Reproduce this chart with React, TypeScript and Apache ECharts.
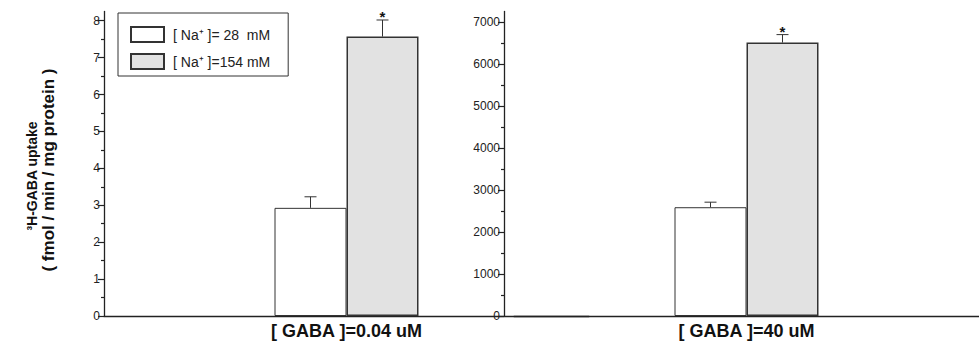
import React, { useEffect, useRef } from "react";
import * as echarts from "echarts";

const lowCategories = ["[ GABA ]=0.04 uM"];
const highCategories = ["[ GABA ]=40 uM"];
const seriesNames = ["[ Na⁺ ]= 28  mM", "[ Na⁺ ]=154 mM"];

const lowNa28 = [2.93];
const lowNa28Err = [0.3];
const lowNa154 = [7.57];
const lowNa154Err = [0.45];

const highNa28 = [2590];
const highNa28Err = [120];
const highNa154 = [6510];
const highNa154Err = [190];

const leftMajorTicks = [0, 1, 2, 3, 4, 5, 6, 7, 8];
const leftMinorTicks = [0.5, 1.5, 2.5, 3.5, 4.5, 5.5, 6.5, 7.5];
const rightMajorTicks = [0, 1000, 2000, 3000, 4000, 5000, 6000, 7000];
const rightMinorTicks = [500, 1500, 2500, 3500, 4500, 5500, 6500];

const yTitleLines = ["³H-GABA uptake", "( fmol / min / mg protein )"];
const significance = ["", "*"];

const FONT = "'Liberation Sans', Arial, Helvetica, sans-serif";
const INK = "#222";

function errorSeries(
  xAxisIndex: number,
  yAxisIndex: number,
  means: number[],
  errs: number[],
  offset: number,
  mark: string
) {
  return {
    type: "custom",
    xAxisIndex,
    yAxisIndex,
    z: 5,
    silent: true,
    clip: false,
    encode: { x: 0, y: 1 },
    data: means.map((m, i) => [i, m, errs[i]]),
    renderItem: (params: any, api: any) => {
      const cat = api.value(0);
      const v = api.value(1);
      const e = api.value(2);
      const base = api.coord([cat, v]);
      const top = api.coord([cat, v + e]);
      const x = base[0] + offset;
      const children: any[] = [
        {
          type: "line",
          shape: { x1: x, y1: base[1], x2: x, y2: top[1] },
          style: { stroke: "#333", lineWidth: 1 },
        },
        {
          type: "line",
          shape: { x1: x - 6, y1: top[1], x2: x + 6, y2: top[1] },
          style: { stroke: "#333", lineWidth: 1 },
        },
      ];
      if (mark) {
        children.push({
          type: "text",
          x: x,
          y: top[1] - 3,
          style: {
            text: mark,
            fill: "#111",
            fontSize: 15,
            fontWeight: "bold",
            fontFamily: FONT,
            textAlign: "center",
            textVerticalAlign: "middle",
          },
        });
      }
      return { type: "group", children };
    },
  };
}

export default function App() {
  const ref = useRef<HTMLDivElement>(null);

  useEffect(() => {
    document.body.style.margin = "0";
    if (!ref.current) return;
    const chart = echarts.init(ref.current, undefined, { renderer: "svg" });

    const axisLineStyle = { color: INK, width: 1.3 };
    const xAxisCommon = {
      type: "category",
      axisLine: { show: true, onZero: true, lineStyle: axisLineStyle },
      axisTick: { show: false },
      axisLabel: {
        margin: 6,
        fontSize: 18,
        fontWeight: "bold",
        color: "#111",
        fontFamily: FONT,
      },
    };
    const majorY = (gridIndex: number, max: number, ticks: number[], offset: number) => ({
      type: "value",
      gridIndex,
      min: 0,
      max,
      position: "left",
      offset,
      splitLine: { show: false },
      axisLine: { show: true, onZero: false, lineStyle: axisLineStyle },
      axisTick: {
        show: true,
        length: 6,
        customValues: ticks,
        lineStyle: { color: INK, width: 1.2 },
      },
      axisLabel: {
        customValues: ticks,
        margin: 4,
        fontSize: 12,
        color: INK,
        fontFamily: FONT,
        formatter: (v: number) => String(v),
      },
    });
    const minorY = (gridIndex: number, max: number, ticks: number[], offset: number) => ({
      type: "value",
      gridIndex,
      min: 0,
      max,
      position: "left",
      offset,
      splitLine: { show: false },
      axisLine: { show: false, onZero: false },
      axisTick: {
        show: true,
        length: 3,
        customValues: ticks,
        lineStyle: { color: INK, width: 1.2 },
      },
      axisLabel: { show: false },
    });

    const whiteStyle = { color: "#ffffff", borderColor: "#333", borderWidth: 1 };
    const grayStyle = { color: "#e2e2e2", borderColor: "#333", borderWidth: 1.5 };

    chart.setOption({
      animation: false,
      backgroundColor: "#ffffff",
      textStyle: { fontFamily: FONT },
      grid: [
        { left: 104, top: 11.5, right: 390, bottom: 26 },
        { left: 514, top: 11.5, right: 0, bottom: 26 },
      ],
      legend: {
        left: 118,
        top: 13,
        orient: "vertical",
        icon: "rect",
        itemWidth: 33,
        itemHeight: 15,
        itemGap: 10,
        padding: [13, 18, 6, 12],
        borderColor: "#333",
        borderWidth: 1,
        selectedMode: false,
        data: seriesNames,
        textStyle: {
          fontSize: 14,
          color: INK,
          fontFamily: FONT,
          padding: [0, 0, 0, 4],
        },
      },
      xAxis: [
        { ...xAxisCommon, gridIndex: 0, data: lowCategories },
        { ...xAxisCommon, gridIndex: 1, data: highCategories },
      ],
      yAxis: [
        majorY(0, 8.25, leftMajorTicks, 0),
        minorY(0, 8.25, leftMinorTicks, 0),
        majorY(1, 7250, rightMajorTicks, 10),
        minorY(1, 7250, rightMinorTicks, 10),
      ],
      series: [
        {
          type: "bar",
          name: seriesNames[0],
          xAxisIndex: 0,
          yAxisIndex: 0,
          data: lowNa28,
          barWidth: 72,
          barGap: "0%",
          itemStyle: whiteStyle,
        },
        {
          type: "bar",
          name: seriesNames[1],
          xAxisIndex: 0,
          yAxisIndex: 0,
          data: lowNa154,
          barWidth: 72,
          barGap: "0%",
          itemStyle: grayStyle,
        },
        {
          type: "bar",
          name: seriesNames[0],
          xAxisIndex: 1,
          yAxisIndex: 2,
          data: highNa28,
          barWidth: 72,
          barGap: "0%",
          itemStyle: whiteStyle,
        },
        {
          type: "bar",
          name: seriesNames[1],
          xAxisIndex: 1,
          yAxisIndex: 2,
          data: highNa154,
          barWidth: 72,
          barGap: "0%",
          itemStyle: grayStyle,
        },
        errorSeries(0, 0, lowNa28, lowNa28Err, -36, significance[0]),
        errorSeries(0, 0, lowNa154, lowNa154Err, 36, significance[1]),
        errorSeries(1, 2, highNa28, highNa28Err, -36, significance[0]),
        errorSeries(1, 2, highNa154, highNa154Err, 36, significance[1]),
      ],
      graphic: [
        {
          type: "text",
          x: 32,
          y: 176,
          rotation: Math.PI / 2,
          style: {
            text: yTitleLines[0],
            fontSize: 14,
            fontWeight: "bold",
            fontFamily: FONT,
            fill: "#111",
            textAlign: "center",
            textVerticalAlign: "middle",
          },
        },
        {
          type: "text",
          x: 48,
          y: 170,
          rotation: Math.PI / 2,
          style: {
            text: yTitleLines[1],
            fontSize: 17,
            fontWeight: "bold",
            fontFamily: FONT,
            fill: "#111",
            textAlign: "center",
            textVerticalAlign: "middle",
          },
        },
      ],
    });

    return () => chart.dispose();
  }, []);

  return <div ref={ref} style={{ width: 979, height: 342 }} />;
}
